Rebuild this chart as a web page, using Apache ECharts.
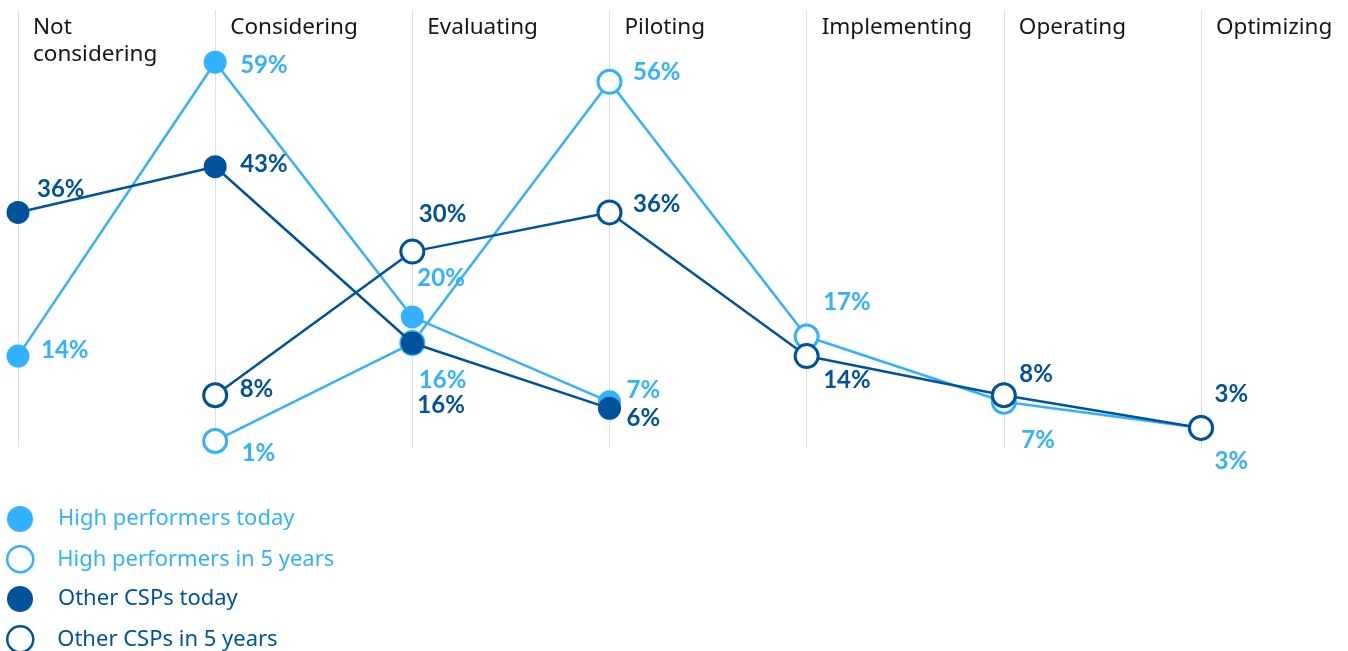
<!DOCTYPE html>
<html>
<head>
<meta charset="utf-8">
<script src="https://cdn.jsdelivr.net/npm/echarts@6/dist/echarts.min.js"></script>
<style>
html,body{margin:0;padding:0;background:#fff;}
#chart{width:1348px;height:651px;}
</style>
</head>
<body>
<div id="chart"></div>
<script>
// ---- data ----
var categories = ['Not\nconsidering', 'Considering', 'Evaluating', 'Piloting', 'Implementing', 'Operating', 'Optimizing'];
var seriesNames = ['High performers today', 'High performers in 5 years', 'Other CSPs today', 'Other CSPs in 5 years'];
var hpToday   = [14, 59, 20, 7, null, null, null];
var hpFuture  = [null, 1, 16, 56, 17, 7, 3];
var otToday   = [36, 43, 16, 6, null, null, null];
var otFuture  = [null, 8, 30, 36, 14, 8, 3];

// ---- styling (label offsets per point, not data) ----
var LIGHT = '#33b1ff', DARK = '#00539a';
var labelOffsets = [
  [[1.5,-6],[3.5,3],[-16.5,-39],[-4.5,-12],null,null,null],
  [null,[3.5,12],[-16.5,37],[0.5,-10],[-6.5,-34],[-5.5,38],[-9.5,33]],
  [[-2.5,-23],[3.5,-2],[-16.5,62],[-4.5,10],null,null,null],
  [null,[1.5,-6],[-16.5,-37],[0.5,-8],[-6.5,24],[-7.5,-21],[-9.5,-34]]
];
var styles = [
  {color: LIGHT, filled: true},
  {color: LIGHT, filled: false},
  {color: DARK, filled: true},
  {color: DARK, filled: false}
];
var values = [hpToday, hpFuture, otToday, otFuture];

function buildSeries(i) {
  var st = styles[i];
  var data = values[i].map(function (v, j) {
    if (v === null) return '-';
    var off = labelOffsets[i][j] || [0, 0];
    return {value: v, label: {offset: off}};
  });
  return {
    name: seriesNames[i],
    type: 'line',
    data: data,
    symbol: 'circle',
    symbolSize: 23,
    showAllSymbol: true,
    connectNulls: false,
    lineStyle: {color: st.color, width: 2.5},
    itemStyle: st.filled ? {color: st.color, borderWidth: 0}
                         : {color: '#ffffff', borderColor: st.color, borderWidth: 3},
    label: {
      show: true,
      position: 'right',
      distance: 10,
      formatter: '{c}%',
      color: st.color,
      fontFamily: 'Lato',
      fontWeight: 'bold',
      fontSize: 24
    },
    emphasis: {disabled: true},
    z: 2 + i
  };
}

function buildLegend(i) {
  var st = styles[i];
  return {
    left: st.filled ? 7 : 6,
    top: st.filled ? 506 + i * 40 : 505 + i * 40,
    padding: 0,
    orient: 'vertical',
    itemWidth: 26,
    itemHeight: 26,
    selectedMode: false,
    textStyle: {fontFamily: 'Noto Sans', fontSize: 22, lineHeight: 26,
                padding: [0, 0, 0, st.filled ? 20 : 19], color: st.color},
    data: [{
      name: seriesNames[i],
      icon: 'circle',
      itemStyle: st.filled ? {color: st.color, borderWidth: 0}
                           : {color: '#fff', borderColor: st.color, borderWidth: 2.5}
    }]
  };
}

var chart = echarts.init(document.getElementById('chart'), null, {renderer: 'canvas'});
chart.setOption({
  animation: false,
  backgroundColor: '#ffffff',
  grid: {left: 18, right: 147, top: 10, bottom: 203.5, containLabel: false},
  xAxis: {
    type: 'category',
    position: 'top',
    boundaryGap: false,
    data: categories,
    axisLine: {show: false},
    axisTick: {show: false},
    splitLine: {show: true, lineStyle: {color: '#e0e0e0', width: 1}},
    axisLabel: {
      inside: true,
      interval: 0,
      margin: 4,
      align: 'left',
      verticalAlign: 'top',
      padding: [0, 0, 0, 15],
      color: '#161616',
      fontFamily: 'Noto Sans',
      fontSize: 22.5,
      lineHeight: 27
    }
  },
  yAxis: {
    type: 'value',
    min: 0,
    max: 67,
    show: false,
    splitLine: {show: false}
  },
  legend: [buildLegend(0), buildLegend(1), buildLegend(2), buildLegend(3)],
  series: [buildSeries(0), buildSeries(1), buildSeries(2), buildSeries(3)]
});
</script>
</body>
</html>
